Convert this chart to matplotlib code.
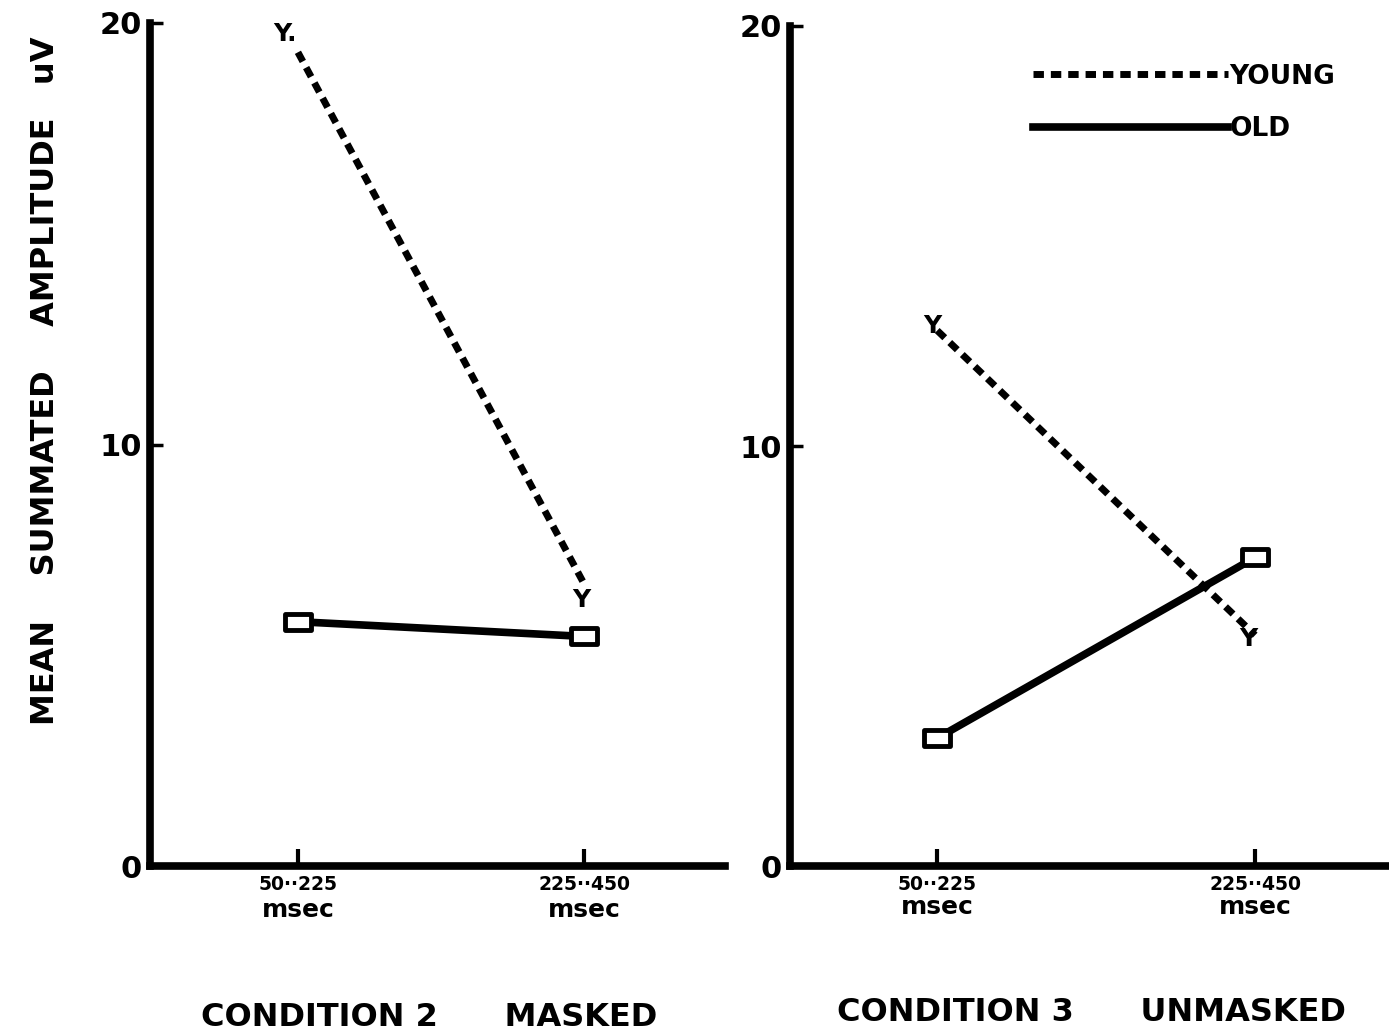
import matplotlib.pyplot as plt
from matplotlib.lines import Line2D
from matplotlib.path import Path
import matplotlib.transforms as mtransforms

# data (mean summated amplitude, uV)
windows = ['50··225', '225··450']
young_masked = [19.3, 6.7]
old_masked = [5.8, 5.45]
young_unmasked = [12.75, 5.5]
old_unmasked = [3.05, 7.35]
yticks = [0, 10, 20]

fig = plt.figure(figsize=(13.89, 10.35), dpi=100)
axL = fig.add_axes([0.108, 0.163, 0.414, 0.815])
axR = fig.add_axes([0.569, 0.163, 0.431, 0.812])

# wide open rectangle marker, like the hand-drawn boxes
box = Path([(-0.8, -0.5), (0.8, -0.5), (0.8, 0.5), (-0.8, 0.5), (-0.8, -0.5)],
           [Path.MOVETO, Path.LINETO, Path.LINETO, Path.LINETO, Path.CLOSEPOLY])

young_style = dict(color='black', lw=5, linestyle=(0, (1.5, 1.0)), dash_capstyle='butt')
old_style = dict(color='black', lw=5.5, marker=box, ms=19, mfc='white', mec='black', mew=3.5)

def setup(ax, xlim, msec_y):
    ax.set_ylim(0, 20)
    ax.set_xlim(*xlim)
    for s in ['top', 'right']:
        ax.spines[s].set_visible(False)
    ax.spines['left'].set_linewidth(5.5)
    ax.spines['bottom'].set_linewidth(5.5)
    ax.set_yticks(yticks)
    ax.set_yticklabels([str(v) for v in yticks], fontsize=22, fontweight='heavy')
    ax.set_xticks([0, 1])
    ax.set_xticklabels(windows, fontsize=13.5, fontweight='bold')
    ax.tick_params(axis='y', direction='in', length=9, width=2.5, pad=6)
    ax.tick_params(axis='x', direction='in', length=12, width=3, pad=6)
    trans = mtransforms.blended_transform_factory(ax.transData, ax.transAxes)
    for xv in [0, 1]:
        ax.text(xv, msec_y, 'msec', transform=trans, ha='center', va='center',
                fontsize=18, fontweight='heavy')

setup(axL, (-0.517, 1.493), -0.052)
setup(axR, (-0.462, 1.421), -0.049)

x = [0, 1]
axL.plot(x, young_masked, **young_style)
axL.plot(x, old_masked, **old_style)
axR.plot(x, young_unmasked, **young_style)
axR.plot(x, old_unmasked, **old_style)

# Y markers at ends of the young lines
axL.text(-0.005, young_masked[0] + 0.15, 'Y.', fontsize=18, fontweight='bold', ha='right', va='bottom')
axL.text(0.99, young_masked[1] - 0.1, 'Y', fontsize=18, fontweight='bold', ha='center', va='top')
axR.text(-0.015, young_unmasked[0] + 0.1, 'Y', fontsize=18, fontweight='bold', ha='center', va='center')
axR.text(0.98, young_unmasked[1] - 0.1, 'Y', fontsize=18, fontweight='bold', ha='center', va='center')

handles = [Line2D([], [], **young_style),
           Line2D([], [], color='black', lw=5.5)]
axR.legend(handles, ['YOUNG', 'OLD'], loc='upper left', bbox_to_anchor=(0.405, 0.955),
           frameon=False, handlelength=7.4, handletextpad=0.05, labelspacing=1.0,
           borderpad=0, borderaxespad=0, prop=dict(size=19, weight='heavy'))

fig.text(0.033, 0.632, 'MEAN    SUMMATED    AMPLITUDE   uV', rotation=90, ha='center', va='center',
         fontsize=23, fontweight='heavy')
fig.text(0.309, 0.017, 'CONDITION 2      MASKED', ha='center', va='center', fontsize=23, fontweight='heavy')
fig.text(0.786, 0.022, 'CONDITION 3      UNMASKED', ha='center', va='center', fontsize=23, fontweight='heavy')

fig.savefig('out.png', dpi=100)
